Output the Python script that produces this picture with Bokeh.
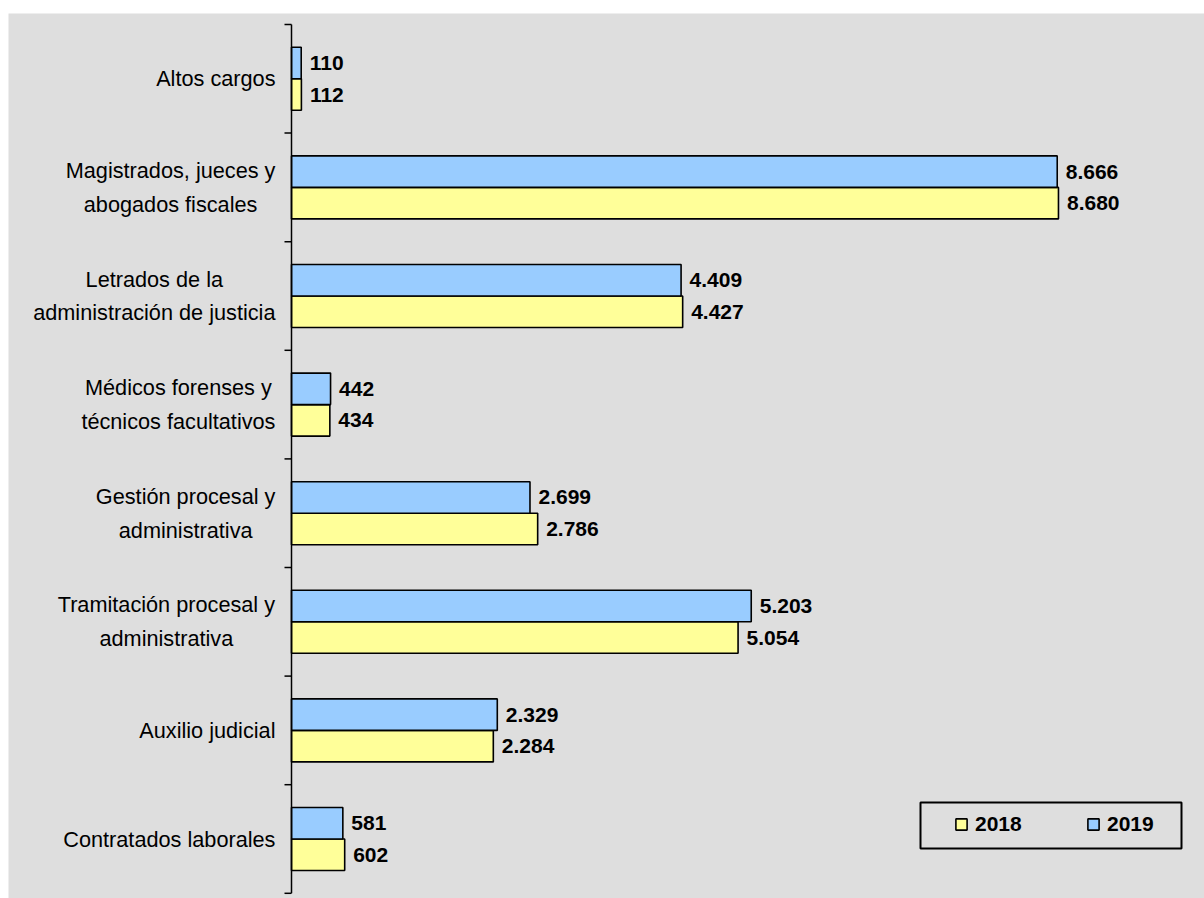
from bokeh.plotting import figure
from bokeh.models import ColumnDataSource, Range1d, Legend, LegendItem, BoxAnnotation
from bokeh.core.properties import value
from bokeh.embed import file_html
from bokeh.resources import INLINE

# ---------------- data ----------------
categories = [
    "Altos cargos",
    "Magistrados, jueces y\nabogados fiscales",
    "Letrados de la\nadministración de justicia",
    "Médicos forenses y\ntécnicos facultativos",
    "Gestión procesal y\nadministrativa",
    "Tramitación procesal y\nadministrativa",
    "Auxilio judicial",
    "Contratados laborales",
]
v2018 = [112, 8680, 4427, 434, 2786, 5054, 2284, 602]
v2019 = [110, 8666, 4409, 442, 2699, 5203, 2329, 581]
years = ["2018", "2019"]

# ---------------- style / layout ----------------
BG = "#DEDEDE"
C2018 = "#FFFF99"
C2019 = "#99CCFF"
FONT = "Liberation Sans"
W, H = 1204, 898
FRAME_L, FRAME_T = 8, 13
AXIS_PX = 291          # canvas x of value 0
PX_PER_UNIT = 0.08836  # pixels per unit on the value axis
TOP_TICK_PX = 24       # canvas y of the top category boundary
PITCH = 108.6          # pixels per category
BAR_H = 0.29
OFF = 0.145
LABEL_GAP_PX = 8.5
CAT_RIGHT_PX = 275
CAT_FS = 21.7

def px_to_x(px):
    return (px - AXIS_PX) / PX_PER_UNIT

def py_to_y(py):
    return (py - TOP_TICK_PX) / PITCH - 0.5

# Arial / Liberation Sans advance widths (per 1000 em)
AW = {' ': 278, ',': 278, 'A': 667, 'C': 722, 'G': 778, 'L': 556, 'M': 833, 'T': 611,
      'a': 556, 'b': 556, 'c': 500, 'd': 556, 'e': 556, 'f': 278, 'g': 556, 'i': 222,
      'j': 222, 'l': 222, 'm': 833, 'n': 556, 'o': 556, 'p': 556, 'r': 333, 's': 500,
      't': 278, 'u': 556, 'v': 500, 'x': 500, 'y': 500, 'ó': 556, 'é': 556, 'á': 556}

def text_w(line, fs):
    return sum(AW.get(ch, 556) for ch in line) * fs / 1000.0

n = len(categories)
idx = list(range(n))
cat_cx = []
for c in categories:
    w = max(text_w(line, CAT_FS) for line in c.split("\n"))
    cat_cx.append(px_to_x(CAT_RIGHT_PX - w / 2.0))

def fmt(v):
    return f"{v:,}".replace(",", ".")

gap = LABEL_GAP_PX / PX_PER_UNIT
src18 = ColumnDataSource(dict(y=[i + OFF for i in idx], v=v2018,
                              lx=[v + gap for v in v2018], lab=[fmt(v) for v in v2018]))
src19 = ColumnDataSource(dict(y=[i - OFF for i in idx], v=v2019,
                              lx=[v + gap for v in v2019], lab=[fmt(v) for v in v2019]))
srccat = ColumnDataSource(dict(x=cat_cx, y=idx, t=categories))

p = figure(width=W, height=H,
           x_range=Range1d(px_to_x(FRAME_L), px_to_x(W)),
           y_range=Range1d(py_to_y(H), py_to_y(FRAME_T)),
           x_axis_location=None, y_axis_location=None,
           output_backend="svg", toolbar_location=None,
           min_border_left=FRAME_L, min_border_top=FRAME_T,
           min_border_right=0, min_border_bottom=0)
p.grid.visible = False
p.outline_line_color = None
p.background_fill_color = BG
p.border_fill_color = "white"

r18 = p.hbar(y="y", right="v", left=0, height=BAR_H, source=src18,
             fill_color=C2018, line_color="black", line_width=1.6)
r19 = p.hbar(y="y", right="v", left=0, height=BAR_H, source=src19,
             fill_color=C2019, line_color="black", line_width=1.6)

for s in (src18, src19):
    p.text(x="lx", y="y", text="lab", source=s, text_font=value(FONT),
           text_font_style="bold", text_font_size="21px", text_color="black",
           text_align="left", text_baseline="middle")

p.text(x="x", y="y", text="t", source=srccat, text_font=value(FONT),
       text_font_size=f"{CAT_FS}px", text_color="black", text_align="center",
       text_baseline="middle", text_line_height=1.35)

# category axis line and boundary ticks
bounds = [i - 0.5 for i in range(n + 1)]
p.segment(x0=[0], y0=[bounds[0]], x1=[0], y1=[bounds[-1]],
          line_color="black", line_width=1.5)
p.segment(x0=[px_to_x(AXIS_PX - 7)] * len(bounds), y0=bounds, x1=[0] * len(bounds), y1=bounds,
          line_color="black", line_width=1.5)

# legend frame
p.add_layout(BoxAnnotation(left=px_to_x(920), right=px_to_x(1181),
                           top=py_to_y(802), bottom=py_to_y(848),
                           fill_alpha=0, line_color="black", line_alpha=1.0, line_width=2))

legend = Legend(items=[LegendItem(label=years[0], renderers=[r18]),
                       LegendItem(label=years[1], renderers=[r19])],
                orientation="horizontal", location=(954 - FRAME_L, 62),
                glyph_width=14, glyph_height=14, label_standoff=7,
                label_width=47, spacing=64, padding=0, margin=0,
                border_line_alpha=0, background_fill_alpha=0,
                label_text_font=FONT, label_text_font_style="bold",
                label_text_color="black",
                label_text_font_size="21px", label_text_baseline="middle")
p.add_layout(legend)

open("out.html", "w").write(file_html(p, INLINE))
